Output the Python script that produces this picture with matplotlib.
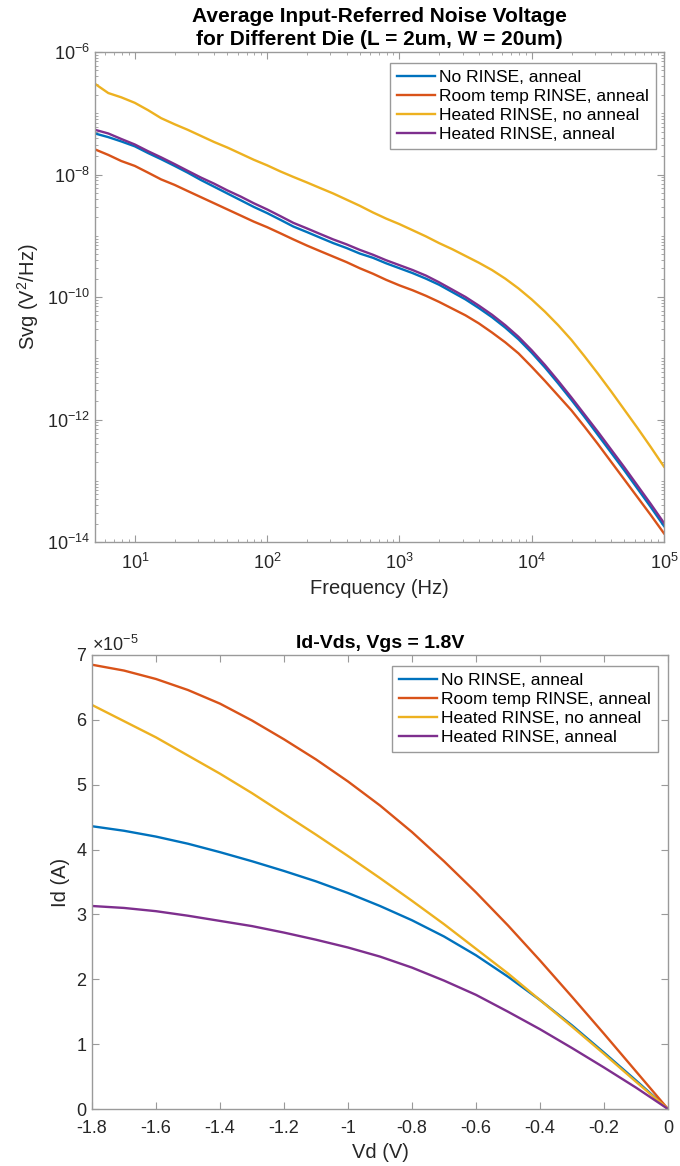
import matplotlib
matplotlib.use("Agg")
import matplotlib.pyplot as plt
import numpy as np
from matplotlib.ticker import LogLocator, FixedLocator, ScalarFormatter, NullFormatter

plt.rcParams['font.family'] = ['Liberation Sans', 'DejaVu Sans']
plt.rcParams['mathtext.fontset'] = 'custom'
plt.rcParams['mathtext.rm'] = 'Liberation Sans'
plt.rcParams['mathtext.it'] = 'Liberation Sans:italic'
plt.rcParams['mathtext.bf'] = 'Liberation Sans:bold'
plt.rcParams['axes.unicode_minus'] = False

# ---------------- data ----------------
series_labels = ["No RINSE, anneal", "Room temp RINSE, anneal",
                 "Heated RINSE, no anneal", "Heated RINSE, anneal"]
series_colors = ["#0072BD", "#D95319", "#EDB120", "#7E2F8E"]

freq_hz = [5, 6.3, 7.9, 10, 12.6, 15.8, 20, 25.1, 31.6, 39.8, 50.1, 63.1, 79.4,
           100, 126, 158, 200, 251, 316, 398, 501, 631, 794,
           1000, 1259, 1585, 1995, 2512, 3162, 3981, 5012, 6310, 7943,
           10000, 12589, 15849, 19953, 25119, 31623, 39811, 50119, 63096, 79433,
           100000]

# noise PSD, stored as log10(Svg / (V^2/Hz))
svg_no_rinse_anneal_exp = [
    -7.33, -7.39, -7.46, -7.54, -7.65, -7.75, -7.86, -7.97, -8.09, -8.20, -8.31,
    -8.42, -8.53, -8.63, -8.74, -8.85, -8.94, -9.03, -9.12, -9.20, -9.29, -9.36,
    -9.45, -9.53, -9.61, -9.70, -9.80, -9.92, -10.04, -10.18, -10.33, -10.50,
    -10.69, -10.91, -11.15, -11.41, -11.68, -11.96, -12.25, -12.54, -12.83,
    -13.13, -13.43, -13.74]
svg_room_rinse_anneal_exp = [
    -7.59, -7.68, -7.78, -7.86, -7.97, -8.08, -8.17, -8.27, -8.37, -8.47, -8.57,
    -8.67, -8.77, -8.86, -8.96, -9.06, -9.16, -9.25, -9.34, -9.43, -9.53, -9.62,
    -9.72, -9.81, -9.89, -9.98, -10.08, -10.19, -10.30, -10.43, -10.58, -10.74,
    -10.92, -11.14, -11.37, -11.61, -11.85, -12.12, -12.40, -12.69, -12.98,
    -13.27, -13.56, -13.86]
svg_heated_rinse_no_anneal_exp = [
    -6.52, -6.67, -6.74, -6.83, -6.95, -7.08, -7.18, -7.27, -7.37, -7.47, -7.56,
    -7.66, -7.76, -7.85, -7.95, -8.04, -8.13, -8.22, -8.31, -8.41, -8.51, -8.62,
    -8.72, -8.81, -8.91, -9.01, -9.12, -9.22, -9.33, -9.44, -9.56, -9.70,
    -9.86, -10.04, -10.24, -10.46, -10.70, -10.97, -11.25, -11.54, -11.84,
    -12.14, -12.45, -12.77]
svg_heated_rinse_anneal_exp = [
    -7.27, -7.33, -7.42, -7.51, -7.62, -7.72, -7.83, -7.94, -8.05, -8.15, -8.26,
    -8.36, -8.47, -8.57, -8.68, -8.79, -8.88, -8.97, -9.06, -9.14, -9.23, -9.31,
    -9.40, -9.48, -9.56, -9.65, -9.76, -9.88, -10.00, -10.14, -10.29, -10.46,
    -10.65, -10.87, -11.11, -11.37, -11.64, -11.92, -12.20, -12.49, -12.78,
    -13.08, -13.38, -13.69]

vd_volts = [-1.8, -1.7, -1.6, -1.5, -1.4, -1.3, -1.2, -1.1, -1.0, -0.9,
            -0.8, -0.7, -0.6, -0.5, -0.4, -0.3, -0.2, -0.1, 0.0]
# drain current in units of 1e-5 A
id_no_rinse_anneal = [4.36, 4.29, 4.20, 4.09, 3.96, 3.82, 3.67, 3.51, 3.33, 3.13,
                      2.91, 2.66, 2.37, 2.04, 1.68, 1.29, 0.87, 0.44, 0.0]
id_room_rinse_anneal = [6.85, 6.76, 6.63, 6.46, 6.25, 5.99, 5.70, 5.39, 5.05, 4.68,
                        4.27, 3.82, 3.34, 2.83, 2.29, 1.73, 1.16, 0.58, 0.0]
id_heated_rinse_no_anneal = [6.23, 5.98, 5.73, 5.45, 5.17, 4.87, 4.55, 4.23, 3.90, 3.56,
                             3.21, 2.85, 2.47, 2.09, 1.68, 1.27, 0.85, 0.42, 0.0]
id_heated_rinse_anneal = [3.13, 3.10, 3.05, 2.98, 2.90, 2.82, 2.72, 2.61, 2.49, 2.35,
                          2.18, 1.98, 1.76, 1.50, 1.23, 0.94, 0.64, 0.33, 0.0]

# ---------------- figure ----------------
W, H = 680, 1166
fig = plt.figure(figsize=(W / 100, H / 100), dpi=100)

axis_grey = "#9a9a9a"
text_dark = "#262626"
fs = 13
line_w = 1.7


def style_axes(ax):
    for sp in ax.spines.values():
        sp.set_color(axis_grey)
        sp.set_linewidth(1.0)
    ax.tick_params(which="both", direction="in", top=True, right=True,
                   color=axis_grey, labelcolor=text_dark, labelsize=fs)
    ax.tick_params(which="major", length=5, width=0.8)
    ax.tick_params(which="minor", length=2.5, width=0.6)
    ax.tick_params(axis="x", which="major", pad=8)


def add_legend(ax, anchor):
    leg = ax.legend(loc="upper right", bbox_to_anchor=anchor, borderaxespad=0,
                    fontsize=12.5, frameon=True, fancybox=False, edgecolor=axis_grey,
                    handlelength=2.2, handletextpad=0.25, labelspacing=0.22,
                    borderpad=0.4, framealpha=1.0)
    leg.get_frame().set_linewidth(1.0)
    for t in leg.get_texts():
        t.set_color("black")
    return leg


# --- noise spectrum ---
ax1 = fig.add_axes([95 / W, 1 - 542 / H, 569 / W, 490 / H])
svg_sets = [svg_no_rinse_anneal_exp, svg_room_rinse_anneal_exp,
            svg_heated_rinse_no_anneal_exp, svg_heated_rinse_anneal_exp]
for exps, lab, col in zip(svg_sets, series_labels, series_colors):
    ax1.loglog(freq_hz, 10.0 ** np.array(exps), color=col, lw=line_w, label=lab)
ax1.set_xlim(5, 1e5)
ax1.set_ylim(1e-14, 1e-6)
ax1.yaxis.set_major_locator(FixedLocator([1e-14, 1e-12, 1e-10, 1e-8, 1e-6]))
ax1.yaxis.set_minor_locator(LogLocator(base=10, subs=np.arange(1, 10), numticks=40))
ax1.yaxis.set_minor_formatter(NullFormatter())
ax1.xaxis.set_major_locator(LogLocator(base=10, numticks=10))
ax1.xaxis.set_minor_locator(LogLocator(base=10, subs=np.arange(2, 10), numticks=40))
ax1.xaxis.set_minor_formatter(NullFormatter())
style_axes(ax1)
ax1.set_xlabel("Frequency (Hz)", fontsize=14.5, color=text_dark)
ax1.set_ylabel("Svg (V$^2$/Hz)", fontsize=14.5, color=text_dark)
ax1.set_title("Average Input-Referred Noise Voltage\nfor Different Die (L = 2um, W = 20um)",
              fontsize=15, fontweight="bold", color="black", pad=5, linespacing=1.25)
add_legend(ax1, (0.986, 0.978))

# --- Id-Vd characteristics ---
ax2 = fig.add_axes([92 / W, 1 - 1109 / H, 576 / W, 454 / H])
id_sets = [id_no_rinse_anneal, id_room_rinse_anneal,
           id_heated_rinse_no_anneal, id_heated_rinse_anneal]
for vals, lab, col in zip(id_sets, series_labels, series_colors):
    ax2.plot(vd_volts, np.array(vals) * 1e-5, color=col, lw=line_w, label=lab)
ax2.set_xlim(-1.8, 0)
ax2.set_ylim(0, 7e-5)
ax2.set_xticks(np.round(np.arange(-1.8, 0.01, 0.2), 1))
ax2.set_xticklabels(["-1.8", "-1.6", "-1.4", "-1.2", "-1", "-0.8",
                     "-0.6", "-0.4", "-0.2", "0"])
sf = ScalarFormatter(useMathText=True)
sf.set_powerlimits((0, 0))
ax2.yaxis.set_major_formatter(sf)
ax2.set_yticks(np.arange(0, 8) * 1e-5)
style_axes(ax2)
ax2.yaxis.get_offset_text().set_fontsize(fs)
ax2.yaxis.get_offset_text().set_color(text_dark)
ax2.set_xlabel("Vd (V)", fontsize=14.5, color=text_dark)
ax2.set_ylabel("Id (A)", fontsize=14.5, color=text_dark)
ax2.set_title("Id-Vds, Vgs = 1.8V", fontsize=14, fontweight="bold",
              color="black", pad=5)
add_legend(ax2, (0.983, 0.976))

fig.savefig("out.png", dpi=100, facecolor="white")
